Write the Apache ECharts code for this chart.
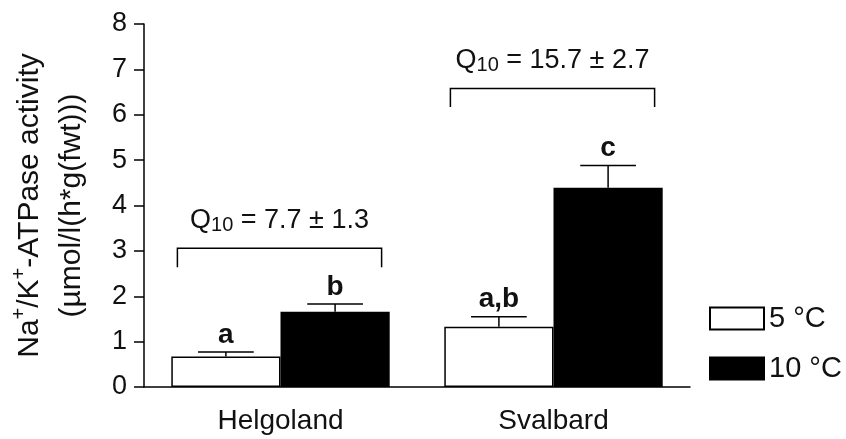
<!DOCTYPE html>
<html>
<head>
<meta charset="utf-8">
<script src="https://cdn.jsdelivr.net/npm/echarts@6/dist/echarts.min.js"></script>
<style>html,body{margin:0;padding:0;background:#fff;}#c{width:846px;height:439px;}</style>
</head>
<body>
<div id="c"></div>
<script>
var categories = ['Helgoland', 'Svalbard'];
var seriesNames = ['5 °C', '10 °C'];
var means5 = [0.67, 1.33];
var err5 = [0.10, 0.22];
var means10 = [1.66, 4.39];
var err10 = [0.17, 0.49];
var letters5 = ['a', 'a,b'];
var letters10 = ['b', 'c'];
var bracketTop = [3.06, 6.58];
var bracketBottom = [2.64, 6.17];
var q10Values = ['7.7 ± 1.3', '15.7 ± 2.7'];
var yTicks = [0, 1, 2, 3, 4, 5, 6, 7, 8];

var FONT = "'Liberation Sans', Arial, sans-serif";
var TXT = '#111';

var chart = echarts.init(document.getElementById('c'));

// error bar data: [category, top, mean, group(0/1), letter]
var errData = [];
for (var i = 0; i < categories.length; i++) {
  errData.push([i, means5[i] + err5[i], means5[i], 0, letters5[i]]);
  errData.push([i, means10[i] + err10[i], means10[i], 1, letters10[i]]);
}
var bracketData = [];
for (var j = 0; j < categories.length; j++) {
  bracketData.push([j, bracketTop[j], bracketBottom[j], q10Values[j]]);
}

chart.setOption({
  animation: false,
  backgroundColor: '#fff',
  textStyle: { fontFamily: FONT, color: TXT },
  grid: { left: 144, right: 156, top: 24, bottom: 52, containLabel: false, outerBoundsMode: 'none' },
  legend: {
    data: seriesNames,
    orient: 'vertical',
    left: 704,
    top: 299,
    itemWidth: 54,
    itemHeight: 22,
    itemGap: 21,
    icon: 'rect',
    textStyle: { fontSize: 29, color: TXT, fontFamily: FONT }
  },
  xAxis: {
    type: 'category',
    data: categories,
    axisLine: { lineStyle: { color: '#000', width: 1.5 } },
    axisTick: { show: false },
    axisLabel: { fontSize: 28, color: TXT, margin: 20, fontFamily: FONT },
    splitLine: { show: false }
  },
  yAxis: {
    type: 'value',
    min: yTicks[0],
    max: yTicks[yTicks.length - 1],
    interval: 1,
    axisLine: { show: true, lineStyle: { color: '#000', width: 1.5 } },
    axisTick: { show: true, length: 10, lineStyle: { color: '#000', width: 1.5 } },
    axisLabel: { fontSize: 27, color: TXT, margin: 17, fontFamily: FONT },
    splitLine: { show: false },
    name: '{n|Na}{s|+}{n|/K}{s|+}{n|-ATPase activity}\n{n|(µmol/l(h*g(fwt)))}',
    nameLocation: 'middle',
    nameRotate: 90,
    nameGap: 51,
    nameTextStyle: {
      fontFamily: FONT,
      color: TXT,
      align: 'center',
      rich: {
        n: { fontSize: 30, lineHeight: 42, fontFamily: FONT, color: TXT, align: 'center' },
        s: { fontSize: 20, lineHeight: 19, verticalAlign: 'top', fontFamily: FONT, color: TXT, align: 'center' }
      }
    }
  },
  series: [
    {
      name: seriesNames[0],
      type: 'bar',
      data: means5,
      barGap: '0%',
      barCategoryGap: '20%',
      itemStyle: { color: '#fff', borderColor: '#000', borderWidth: 1.5 }
    },
    {
      name: seriesNames[1],
      type: 'bar',
      data: means10,
      barGap: '0%',
      barCategoryGap: '20%',
      itemStyle: { color: '#000', borderColor: '#000', borderWidth: 1.5 }
    },
    {
      type: 'custom',
      clip: false,
      silent: true,
      z: 5,
      data: errData,
      encode: { x: 0, y: 1 },
      renderItem: function (params, api) {
        var cat = api.value(0);
        var top = api.value(1);
        var mean = api.value(2);
        var grp = api.value(3);
        var letter = errData[params.dataIndex][4];
        var band = api.size([1, 0])[0];
        var off = (grp === 0 ? -0.2 : 0.2) * band;
        var pTop = api.coord([cat, top]);
        var pMean = api.coord([cat, mean]);
        var x = pTop[0] + off;
        var half = band * 0.102;
        var ls = { stroke: '#000', lineWidth: 1.5 };
        return {
          type: 'group',
          children: [
            { type: 'line', shape: { x1: x, y1: pMean[1], x2: x, y2: pTop[1] }, style: ls },
            { type: 'line', shape: { x1: x - half, y1: pTop[1], x2: x + half, y2: pTop[1] }, style: ls },
            { type: 'text', style: { text: letter, x: x, y: pTop[1] - 3, align: 'center', verticalAlign: 'bottom', font: 'bold 28px ' + FONT, fill: TXT } }
          ]
        };
      }
    },
    {
      type: 'custom',
      clip: false,
      silent: true,
      z: 5,
      data: bracketData,
      encode: { x: 0, y: 1 },
      renderItem: function (params, api) {
        var cat = api.value(0);
        var top = api.value(1);
        var bottom = api.value(2);
        var txt = bracketData[params.dataIndex][3];
        var band = api.size([1, 0])[0];
        var pT = api.coord([cat, top]);
        var pB = api.coord([cat, bottom]);
        var cx = pT[0] - 1;
        var hw = band * 0.374;
        return {
          type: 'group',
          children: [
            { type: 'polyline', shape: { points: [[cx - hw, pB[1]], [cx - hw, pT[1]], [cx + hw, pT[1]], [cx + hw, pB[1]]] }, style: { stroke: '#000', lineWidth: 1.5, fill: null } },
            { type: 'text', style: {
                text: '{q|Q}{sub|10}{q| = ' + txt + '}',
                x: cx, y: pT[1] - 28,
                align: 'center', verticalAlign: 'middle',
                rich: {
                  q: { fontSize: 27, lineHeight: 30, fontFamily: FONT, fill: TXT },
                  sub: { fontSize: 20, lineHeight: 12, verticalAlign: 'bottom', fontFamily: FONT, fill: TXT }
                }
            } }
          ]
        };
      }
    }
  ]
});
</script>
</body>
</html>
